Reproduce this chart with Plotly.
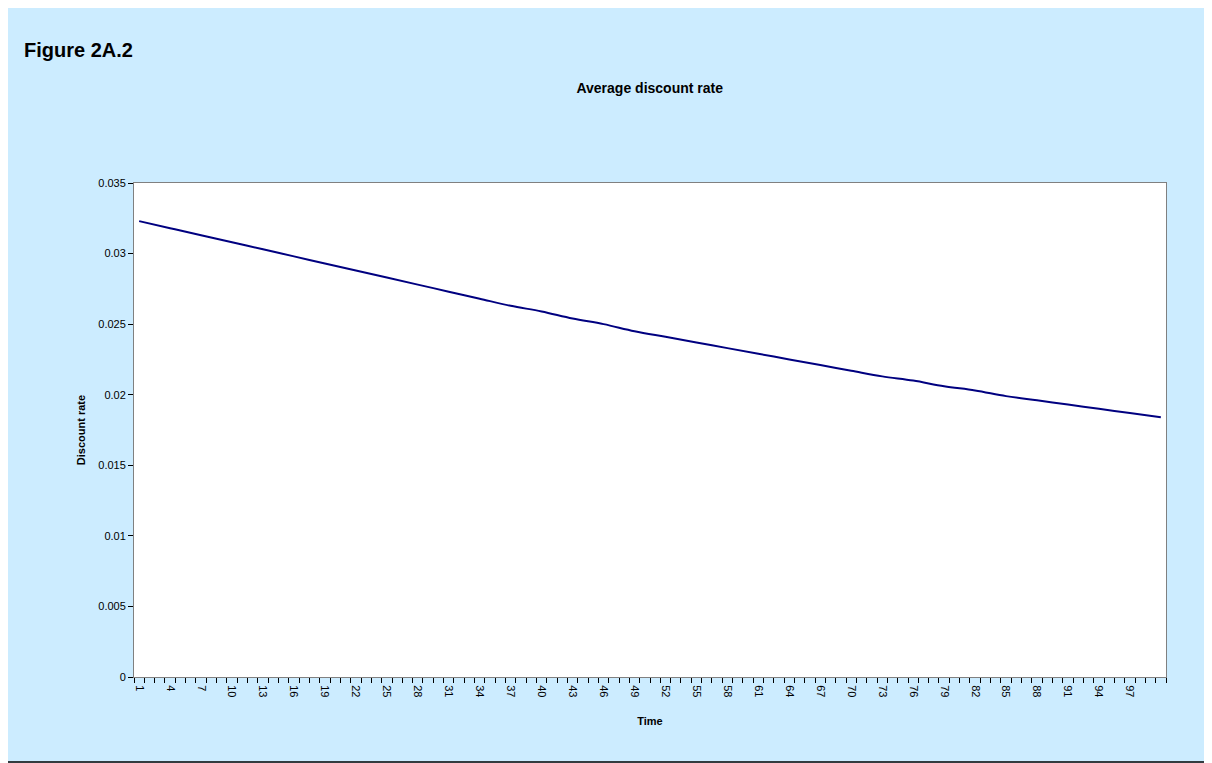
import plotly.graph_objects as go

# values read at every third period (the labelled ticks)
periods = list(range(1, 101, 3)) + [100]
rates = [0.0323, 0.0318, 0.0313, 0.0308, 0.0303, 0.0298, 0.0293, 0.0288, 0.0283,
         0.0278, 0.0273, 0.0268, 0.0263, 0.0259, 0.0254, 0.0250, 0.0245, 0.0241,
         0.0237, 0.0233, 0.0229, 0.0225, 0.0221, 0.0217, 0.0213, 0.0210, 0.0206,
         0.0203, 0.0199, 0.0196, 0.0193, 0.0190, 0.0187, 0.0184]
tick_vals = list(range(1, 98, 3))
tick_labels = [str(v) for v in tick_vals]
y_ticks = [0, 0.005, 0.01, 0.015, 0.02, 0.025, 0.03, 0.035]

fig = go.Figure(go.Scatter(x=periods, y=rates, mode="lines",
                           line=dict(color="#000080", width=2, shape="spline")))

fig.update_layout(
    width=1204, height=755,
    paper_bgcolor="#CCECFF", plot_bgcolor="white",
    margin=dict(l=126, r=46, t=175, b=86),
    font=dict(family="Liberation Sans, Arial", size=11, color="black"),
    showlegend=False,
    title=dict(text="<b>Average discount rate</b>", x=0.533, xanchor="center",
               y=0.894, yanchor="middle", font=dict(size=14)),
    xaxis=dict(range=[0.5, 100.5], tickvals=tick_vals,
               ticktext=tick_labels, tickangle=90, ticks="outside", ticklen=5,
               tickcolor="rgba(0,0,0,0)", showgrid=False,
               zeroline=False, showline=True, linecolor="#808080", mirror=True,
               tickfont=dict(size=11),
               minor=dict(tickmode="linear", tick0=0.5, dtick=1, ticks="outside",
                          ticklen=5, tickcolor="black"),
               title=dict(text="<b>Time</b>", font=dict(size=11), standoff=20)),
    yaxis=dict(range=[0, 0.035], tickvals=y_ticks,
               ticktext=[str(v) for v in y_ticks], ticks="outside", ticklen=5,
               tickcolor="black", showgrid=False, zeroline=False, showline=True,
               linecolor="#808080", mirror=True, tickfont=dict(size=11),
               title=dict(text="<b>Discount rate</b>", font=dict(size=11), standoff=10)),
    annotations=[dict(text="<b>Figure 2A.2</b>", xref="paper", yref="paper",
                      x=-0.1085, y=1.269, xanchor="left", yanchor="middle",
                      showarrow=False, font=dict(size=20))],
    shapes=[dict(type="rect", xref="paper", yref="paper", x0=-0.130, x1=1.0436,
                 y0=-0.172, y1=1.370, line=dict(color="black", width=1.5))],
)

fig.write_html("out.html")
